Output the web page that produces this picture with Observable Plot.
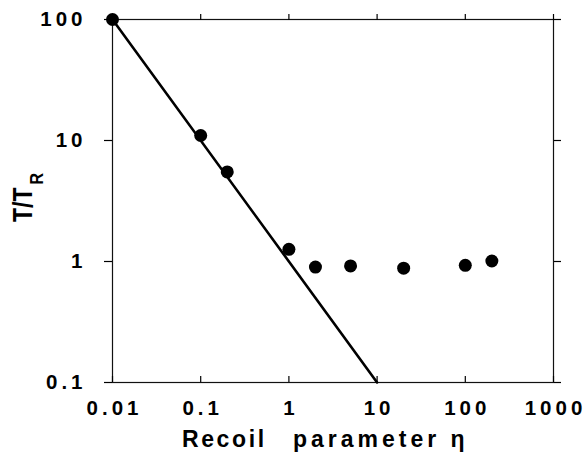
<!DOCTYPE html>
<html>
<head>
<meta charset="utf-8">
<script src="https://cdn.jsdelivr.net/npm/d3@7"></script>
<script src="https://cdn.jsdelivr.net/npm/@observablehq/plot@0.6"></script>
<style>
  html, body { margin: 0; padding: 0; background: #fff; }
  #chart svg { font-family: "Liberation Sans", Arial, sans-serif; font-weight: bold; }
  #chart svg g[aria-label="y-axis tick label"] text,
  #chart svg g[aria-label="x-axis tick label"] text { letter-spacing: 4px; }
</style>
</head>
<body>
<div id="chart"></div>
<script>
// Measured temperature (in units of the recoil temperature) versus recoil parameter
const eta = [0.01, 0.1, 0.2, 1, 2, 5, 20, 100, 200];
const tOverTR = [100, 11, 5.5, 1.26, 0.9, 0.92, 0.88, 0.93, 1.01];

// Reference line T/T_R = 1/eta
const lineEta = [0.01, 10];
const lineT = [100, 0.1];

// Axis ticks
const xTicks = [0.01, 0.1, 1, 10, 100, 1000];
const xTickLabels = ["0.01", "0.1", "1", "10", "100", "1000"];
const yTicks = [0.1, 1, 10, 100];
const yTickLabels = ["0.1", "1", "10", "100"];

const points = eta.map((e, i) => ({eta: e, t: tOverTR[i]}));
const fit = lineEta.map((e, i) => ({eta: e, t: lineT[i]}));

const xLabel = (d) => xTickLabels[xTicks.indexOf(d)];
const yLabel = (d) => yTickLabels[yTicks.indexOf(d)];
const noLabel = () => "";

const chart = Plot.plot({
  width: 586,
  height: 456,
  marginLeft: 112,
  marginRight: 33,
  marginTop: 19,
  marginBottom: 74,
  style: {fontFamily: "Liberation Sans, Arial, sans-serif", fontWeight: "bold", color: "#000", background: "#fff"},
  x: {type: "log", domain: [0.01, 1000]},
  y: {type: "log", domain: [0.1, 100]},
  marks: [
    Plot.frame({stroke: "#111", strokeWidth: 1.2}),
    // left axis: outward ticks with labels
    Plot.axisY({anchor: "left", ticks: yTicks, tickFormat: yLabel, tickSize: 8, tickPadding: 18, fontSize: 20.5, label: null, strokeWidth: 1.2}),
    // right axis: outward ticks only
    Plot.axisY({anchor: "right", ticks: yTicks, tickFormat: noLabel, tickSize: 7, label: null, strokeWidth: 1.2}),
    // top axis: outward ticks only
    Plot.axisX({anchor: "top", ticks: xTicks, tickFormat: noLabel, tickSize: 6, label: null, strokeWidth: 1.2}),
    // bottom axis: inward ticks
    Plot.axisX({anchor: "bottom", ticks: xTicks, tickFormat: noLabel, tickSize: 6, dy: -6, label: null, strokeWidth: 1.2}),
    // bottom axis labels
    Plot.axisX({anchor: "bottom", ticks: xTicks, tickFormat: xLabel, tickSize: 0, tickPadding: 18, dx: 2, fontSize: 20.5, label: null}),
    Plot.line(fit, {x: "eta", y: "t", stroke: "#000", strokeWidth: 2.6, clip: false}),
    Plot.dot(points, {x: "eta", y: "t", r: 6.5, fill: "#000", stroke: "none"})
  ]
});

const svg = d3.select(chart);

// X-axis title
const xTitle = svg.append("text")
  .attr("y", 447)
  .attr("text-anchor", "start")
  .style("font-family", "Liberation Sans, Arial, sans-serif")
  .style("font-size", "23px")
  .style("font-weight", "bold")
  .attr("fill", "#000");
xTitle.append("tspan").attr("x", 182).style("letter-spacing", "2.6px").text("Recoil");
xTitle.append("tspan").attr("x", 293).style("letter-spacing", "4px").text("parameter η");

// Y-axis title with subscript
const yTitle = svg.append("text")
  .attr("transform", "translate(32,222) rotate(-90) scale(1,1.2)")
  .attr("text-anchor", "start")
  .style("font-family", "Liberation Sans, Arial, sans-serif")
  .style("font-size", "23px")
  .style("font-weight", "bold")
  .attr("fill", "#000");
yTitle.append("tspan").text("T/T");
yTitle.append("tspan").attr("dx", 3).attr("dy", 9).style("font-size", "16px").text("R");

document.getElementById("chart").appendChild(chart);
</script>
</body>
</html>
